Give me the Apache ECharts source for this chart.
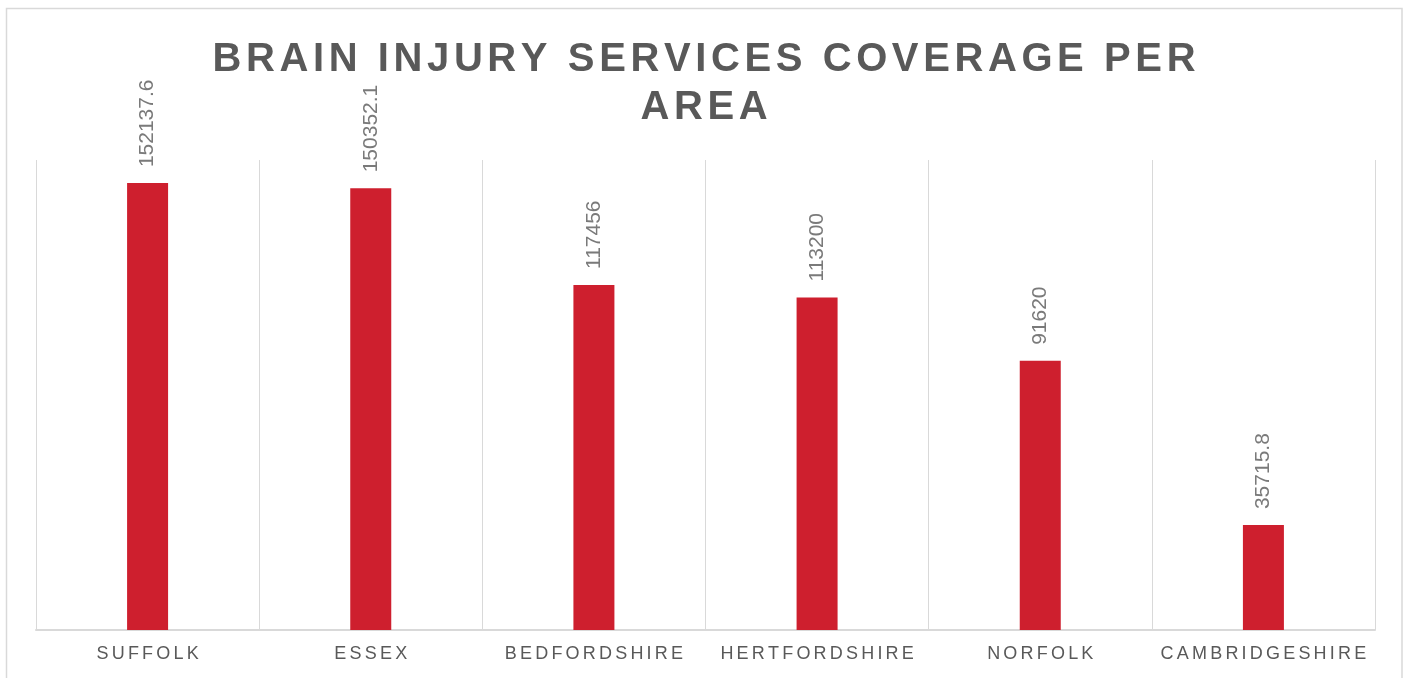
<!DOCTYPE html>
<html>
<head>
<meta charset="utf-8">
<title>Brain Injury Services Coverage per Area</title>
<script src="https://cdn.jsdelivr.net/npm/echarts@6/dist/echarts.min.js"></script>
<style>
  html, body { margin: 0; padding: 0; background: #ffffff; }
  #chart { width: 1408px; height: 678px; }
</style>
</head>
<body>
<div id="chart"></div>
<script>
// Areas and their coverage values
const areas = ['SUFFOLK', 'ESSEX', 'BEDFORDSHIRE', 'HERTFORDSHIRE', 'NORFOLK', 'CAMBRIDGESHIRE'];
const coverage = [152137.6, 150352.1, 117456, 113200, 91620, 35715.8];
const titleLines = ['BRAIN INJURY SERVICES COVERAGE PER', 'AREA'];

const FONT = '"Liberation Sans", Arial, Helvetica, sans-serif';
const TEXT_GREY = '#595959';
const LINE_GREY = '#d9d9d9';

// Build rich text with one token per character so the text gets tracking
function tracked(str, key) {
  return str.split('').map(function (ch, i) {
    return '{' + (i < str.length - 1 ? key : key + 'End') + '|' + ch + '}';
  }).join('');
}

const chart = echarts.init(document.getElementById('chart'), null, { renderer: 'canvas' });

const titleStyle = { fontFamily: FONT, fontSize: 40, fontWeight: 'bold', color: TEXT_GREY, lineHeight: 48 };
const catStyle = { fontFamily: FONT, fontSize: 18, color: TEXT_GREY, lineHeight: 18 };

chart.setOption({
  backgroundColor: '#ffffff',
  animation: false,
  graphic: [{
    type: 'rect',
    z: -10,
    silent: true,
    shape: { x: 6.5, y: 8.5, width: 1395.5, height: 700 },
    style: { fill: '#ffffff', stroke: LINE_GREY, lineWidth: 1.5 }
  }],
  title: {
    text: titleLines.map(function (l) { return tracked(l, 't'); }).join('\n'),
    left: 'center',
    top: 31,
    textStyle: {
      fontFamily: FONT,
      rich: {
        t: Object.assign({ padding: [0, 4.6, 0, 0] }, titleStyle),
        tEnd: Object.assign({}, titleStyle)
      }
    }
  },
  grid: { left: 36, right: 33, top: 160, bottom: 48, containLabel: false },
  xAxis: {
    type: 'category',
    data: areas,
    boundaryGap: true,
    axisLine: { show: true, lineStyle: { color: LINE_GREY, width: 2 } },
    axisTick: { show: false },
    splitLine: { show: true, lineStyle: { color: LINE_GREY, width: 1 } },
    axisLabel: {
      margin: 15,
      interval: 0,
      formatter: function (v) { return tracked(v, 'c'); },
      rich: {
        c: Object.assign({ padding: [0, 3.2, 0, 0] }, catStyle),
        cEnd: Object.assign({}, catStyle)
      }
    }
  },
  yAxis: {
    type: 'value',
    min: 0,
    max: 160000,
    show: false,
    splitLine: { show: false }
  },
  series: [{
    type: 'bar',
    data: coverage,
    barWidth: 41,
    itemStyle: { color: '#ce1f2e' },
    label: {
      show: true,
      position: 'top',
      rotate: 90,
      align: 'left',
      verticalAlign: 'middle',
      distance: 16,
      fontFamily: FONT,
      fontSize: 21,
      color: '#7a7a7a',
      formatter: function (p) { return String(p.value); }
    }
  }]
});
</script>
</body>
</html>
